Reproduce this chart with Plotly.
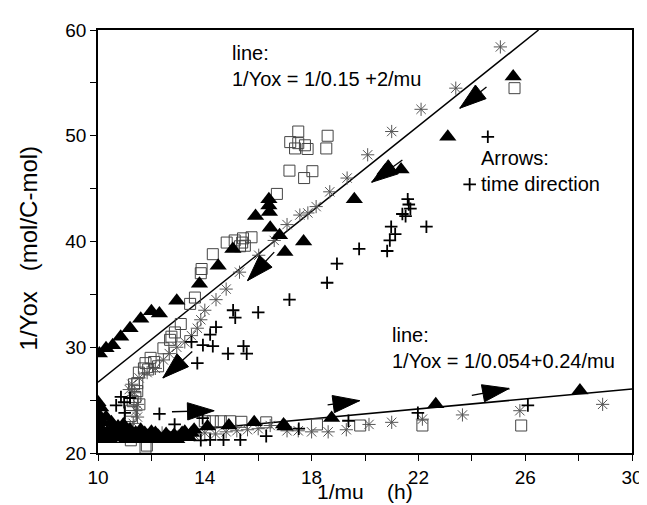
import plotly.graph_objects as go

# ---------------- data ----------------
tri_x = [10.05, 10.3, 10.55, 10.85, 11.2, 11.6, 12.0, 12.3, 12.95, 13.8, 14.5, 15.05, 15.9, 16.4, 16.4,
         16.42, 16.45, 16.8, 17.0, 17.7, 19.6, 20.75, 21.35, 23.1, 25.55,
         10.0, 10.1, 10.0, 10.1, 10.05, 10.1, 10.0, 10.2,
         10.35, 10.55, 10.75, 10.95, 10.9, 11.1, 11.3, 11.45, 11.65, 11.85, 12.05, 12.25, 12.45, 12.65,
         12.85, 13.05, 13.25, 13.6, 14.1, 14.9, 15.85, 16.95, 17.0, 18.75, 22.65, 28.05, 11.0, 12.0, 11.6,
         10.25, 10.45, 10.65, 10.8, 11.05, 11.2, 11.4, 11.55, 11.75, 11.95, 12.15, 12.35, 12.55, 12.75,
         12.95, 13.15, 13.4, 13.5, 10.4, 10.6, 10.15, 10.3, 10.5, 10.7]
tri_y = [29.4, 29.9, 30.2, 31.0, 31.8, 32.7, 33.4, 33.2, 34.4, 36.0, 37.7, 39.3, 42.4, 44.0, 43.4,
         42.8, 41.3, 40.6, 39.0, 40.0, 44.0, 46.7, 46.8, 49.9, 55.6,
         24.8, 24.3, 23.7, 23.1, 22.5, 21.9, 21.3, 21.6,
         22.0, 22.1, 22.5, 22.7, 21.6, 21.9, 21.4, 21.8, 21.3, 21.6, 21.4, 21.6, 21.3, 21.5,
         21.7, 21.5, 22.0, 22.2, 22.5, 22.6, 22.9, 22.7, 22.5, 23.3, 24.6, 25.9, 22.3, 22.0, 22.2,
         21.4, 21.3, 21.5, 22.0, 21.3, 22.2, 21.9, 21.3, 21.9, 21.3, 21.9, 21.3, 21.8, 21.3,
         21.3, 21.9, 21.5, 21.9, 21.6, 22.5, 22.9, 23.4, 22.9, 22.2]

sq_x = [17.5, 17.2, 17.5, 17.38, 17.75, 17.85, 18.6, 18.55, 17.17, 17.72, 18.03, 16.7, 15.75, 15.43, 15.4,
        15.12, 14.82, 15.5, 15.32, 14.3, 13.88, 13.85, 13.63, 13.45, 25.6, 13.1, 12.88, 12.75, 12.7, 12.45,
        11.97, 11.78, 11.72, 11.53, 11.47, 11.35, 11.47, 11.3, 11.23, 11.23, 11.83, 11.23, 14.0, 14.3, 14.6,
        14.95, 15.37, 16.3, 11.78, 18.2, 19.82, 22.15, 25.85, 12.1, 12.25, 11.88, 11.4, 11.55]
sq_y = [50.4, 49.4, 49.3, 48.8, 49.1, 48.75, 50.0, 48.8, 46.7, 46.0, 46.65, 44.5, 40.4, 40.3, 39.9,
        40.1, 39.9, 39.6, 39.55, 38.8, 37.4, 37.0, 34.7, 34.1, 54.5, 32.2, 31.4, 31.0, 30.7, 29.9,
        29.0, 28.5, 28.0, 27.6, 26.6, 26.5, 25.85, 24.9, 24.0, 23.5, 20.7, 21.2, 23.0, 23.0, 23.0,
        23.0, 22.95, 22.9, 20.5, 22.7, 22.6, 22.6, 22.6, 28.6, 28.2, 27.9, 25.3, 24.6]

ast_x = [25.07, 23.4, 22.1, 21.0, 20.1, 19.33, 18.68, 18.17, 17.86, 17.56, 17.08, 16.6, 16.02, 15.3, 14.8,
         14.42, 14.0, 13.85, 13.72, 13.5, 13.25, 12.95, 12.67, 12.45, 12.15, 11.84, 11.54, 11.27, 11.17,
         11.36, 11.48, 11.42, 11.48, 11.32,
         16.45, 17.08, 17.5, 18.0, 18.62, 19.3, 20.15, 21.0, 22.15, 23.65, 25.8, 28.9,
         11.6, 12.0, 12.4, 12.8, 13.2, 13.6, 14.0, 14.4, 14.8, 15.2, 15.6, 16.0, 11.2, 10.8]
ast_y = [58.4, 54.5, 52.5, 50.4, 48.2, 46.0, 44.7, 43.3, 42.7, 42.5, 41.6, 40.1, 38.7, 37.1, 35.5,
         34.5, 33.5, 32.6, 31.8, 31.1, 30.5, 30.0, 29.4, 28.8, 28.0, 27.6, 27.1, 26.5, 26.0,
         25.7, 24.6, 24.0, 23.4, 22.8,
         22.6, 22.1, 22.1, 22.0, 22.0, 22.2, 22.7, 22.9, 23.2, 23.6, 24.0, 24.6,
         22.0, 21.7, 21.9, 21.6, 21.8, 21.7, 21.9, 21.8, 22.0, 22.1, 22.2, 22.3, 22.4, 22.0]

plus_x = [24.6, 23.92, 21.6, 21.64, 21.7, 21.4, 21.52, 22.3, 20.98, 21.13, 20.93, 20.83, 19.78, 18.95,
          18.58, 17.17, 16.0, 15.06, 15.14, 14.42, 14.2, 13.93, 14.3, 14.87, 15.57, 15.45, 13.72, 13.5,
          12.3, 10.86, 10.68, 10.98, 12.87, 13.92, 14.7, 15.33, 16.3, 17.52, 19.38, 21.98, 26.1,
          13.85, 14.2, 11.2, 11.0]
plus_y = [49.9, 45.4, 44.0, 43.5, 43.1, 42.6, 42.4, 41.4, 41.4, 40.7, 40.1, 39.1, 39.3, 37.9,
          36.1, 34.5, 33.3, 33.5, 32.8, 31.9, 31.2, 30.2, 30.1, 29.4, 29.4, 30.1, 28.5, 30.5,
          23.7, 25.3, 24.5, 24.8, 22.7, 23.3, 21.25, 21.25, 21.6, 22.3, 23.05, 23.8, 24.5,
          21.2, 21.25, 25.2, 23.8]

# fitted lines as drawn in the figure
line1_x = [10, 26.5]
line1_y = [26.7, 60]
line2_x = [10, 30]
line2_y = [21.35, 26.05]

# time-direction arrows: tail -> tip
arrow_tail_x = [24.55, 21.4, 16.6, 13.53, 12.77, 18.6, 24.0]
arrow_tail_y = [54.6, 47.7, 39.0, 29.6, 23.9, 24.55, 25.45]
arrow_tip_x = [23.55, 20.25, 15.6, 12.43, 14.35, 19.8, 25.4]
arrow_tip_y = [52.6, 45.6, 36.3, 27.1, 24.0, 24.95, 26.1]

x_ticks = [10, 14, 18, 22, 26, 30]
y_ticks = [20, 30, 40, 50, 60]

FONT = "Liberation Sans, Arial, Helvetica, sans-serif"

fig = go.Figure()

fig.add_trace(go.Scatter(x=line1_x, y=line1_y, mode="lines",
                         line=dict(color="black", width=1.5), hoverinfo="skip"))
fig.add_trace(go.Scatter(x=line2_x, y=line2_y, mode="lines",
                         line=dict(color="black", width=1.5), hoverinfo="skip"))

fig.add_trace(go.Scatter(x=sq_x, y=sq_y, mode="markers",
                         marker=dict(symbol="square-open", size=11, color="#444",
                                     line=dict(width=1, color="#444"))))
fig.add_trace(go.Scatter(x=ast_x, y=ast_y, mode="markers",
                         marker=dict(symbol="asterisk-open", size=11, color="#555",
                                     line=dict(width=1, color="#555"))))
fig.add_trace(go.Scatter(x=plus_x, y=plus_y, mode="markers",
                         marker=dict(symbol="cross-thin-open", size=9, color="black",
                                     line=dict(width=1.8, color="black"))))
fig.add_trace(go.Scatter(x=tri_x, y=tri_y, mode="markers",
                         marker=dict(symbol="triangle-up", size=15, color="black",
                                     line=dict(width=0))))

# arrow shafts
for tx, ty, hx, hy in zip(arrow_tail_x, arrow_tail_y, arrow_tip_x, arrow_tip_y):
    fig.add_trace(go.Scatter(x=[tx, hx], y=[ty, hy], mode="lines",
                             line=dict(color="black", width=1.3), hoverinfo="skip"))
# arrow heads (pointing along each shaft)
for tx, ty, hx, hy in zip(arrow_tail_x, arrow_tail_y, arrow_tip_x, arrow_tip_y):
    fig.add_trace(go.Scatter(x=[tx, hx], y=[ty, hy], mode="markers",
                             marker=dict(symbol="arrow", size=[0, 28], color="rgb(0,0,0)",
                                         opacity=1, angleref="previous",
                                         line=dict(width=1, color="rgb(0,0,0)")),
                             opacity=1, hoverinfo="skip"))

ann_font = dict(family=FONT, size=20, color="black")
annotations = [
    dict(x=14.93, y=56.6, xref="x", yref="y", xanchor="left", yanchor="middle", align="left",
         text="line:<br>1/Yox = 1/0.15 +2/mu", showarrow=False, font=ann_font),
    dict(x=24.26, y=46.7, xref="x", yref="y", xanchor="left", yanchor="middle", align="left",
         text="Arrows:<br>time direction", showarrow=False, font=ann_font),
    dict(x=20.93, y=29.95, xref="x", yref="y", xanchor="left", yanchor="middle", align="left",
         text="line:<br>1/Yox = 1/0.054+0.24/mu", showarrow=False, font=ann_font),
    dict(x=0.5, y=-0.09, xref="paper", yref="paper", xanchor="center", yanchor="middle",
         text="1/mu    (h)", showarrow=False, font=dict(family=FONT, size=21, color="black")),
    dict(x=-0.13, y=0.485, xref="paper", yref="paper", xanchor="center", yanchor="middle",
         text="1/Yox   (mol/C-mol)", textangle=-90, showarrow=False,
         font=dict(family=FONT, size=24, color="black")),
]

fig.update_layout(
    width=647, height=505,
    margin=dict(l=90, r=14, t=19, b=60),
    paper_bgcolor="white", plot_bgcolor="white",
    showlegend=False,
    font=dict(family=FONT, color="black"),
    annotations=annotations,
    xaxis=dict(range=[10, 30], tickvals=x_ticks, ticks="outside", ticklen=6, tickwidth=1.2,
               tickcolor="black", showline=True, linecolor="black", linewidth=1.5, mirror=True,
               showgrid=False, zeroline=False, tickfont=dict(family=FONT, size=19, color="black"),
               minor=dict(dtick=2, tick0=10, ticks="outside", ticklen=6, tickcolor="black", showgrid=False)),
    yaxis=dict(range=[20, 60], tickvals=y_ticks, ticks="outside", ticklen=6, tickwidth=1.2,
               tickcolor="black", showline=True, linecolor="black", linewidth=1.5, mirror=True,
               showgrid=False, zeroline=False, tickfont=dict(family=FONT, size=19, color="black"),
               minor=dict(dtick=5, tick0=20, ticks="outside", ticklen=6, tickcolor="black", showgrid=False)),
)

fig.write_html("out.html")
